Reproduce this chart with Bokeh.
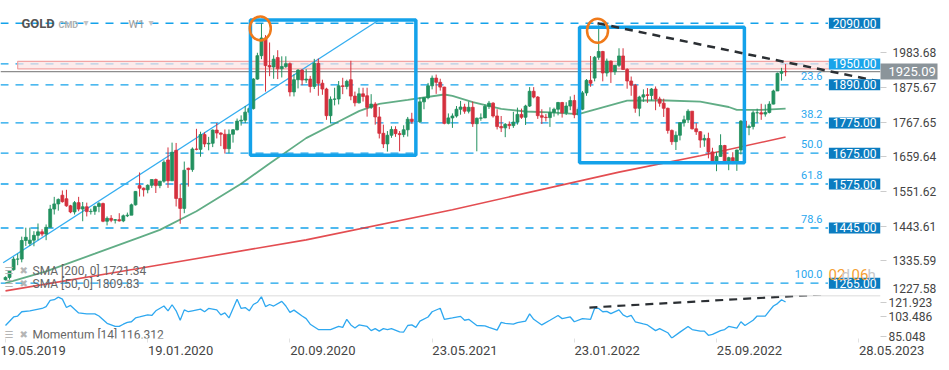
import pandas as pd
from bokeh.plotting import figure
from bokeh.layouts import column
from bokeh.models import Range1d, FixedTicker, Label, Span, ColumnDataSource, LinearAxis
from bokeh.embed import file_html
from bokeh.resources import INLINE

# ---------------- data (weekly GOLD candles, W1) ----------------
first_week = "2019-05-19"
opens = [1277, 1284, 1308, 1341, 1341, 1399, 1390, 1400, 1415, 1426, 1419, 1440, 1497, 1513, 1540, 1529, 1507, 1488, 1517, 1497,
         1504, 1489, 1490, 1505, 1514, 1459, 1468, 1462, 1464, 1460, 1476, 1478, 1510, 1570, 1562, 1557, 1571, 1589, 1570, 1584,
         1650, 1585, 1680, 1530, 1499, 1624, 1620, 1684, 1683, 1729, 1700, 1702, 1743, 1734, 1730, 1685, 1730, 1744, 1771, 1774,
         1799, 1810, 1902, 1975, 2030, 1944, 1940, 1969, 1934, 1941, 1950, 1862, 1900, 1930, 1899, 1902, 1879, 1951, 1889, 1871,
         1788, 1839, 1840, 1881, 1879, 1900, 1849, 1828, 1856, 1850, 1814, 1824, 1784, 1733, 1700, 1727, 1745, 1732, 1729, 1744,
         1777, 1770, 1769, 1831, 1844, 1881, 1905, 1892, 1877, 1764, 1781, 1787, 1808, 1815, 1802, 1814, 1763, 1780, 1781, 1817,
         1827, 1787, 1754, 1750, 1761, 1757, 1768, 1792, 1783, 1818, 1864, 1846, 1788, 1783, 1782, 1798, 1808, 1829, 1797, 1818,
         1835, 1791, 1808, 1859, 1898, 1905, 1970, 1988, 1921, 1958, 1925, 1945, 1974, 1932, 1896, 1883, 1811, 1846, 1853, 1851,
         1871, 1840, 1827, 1811, 1742, 1707, 1727, 1766, 1775, 1802, 1747, 1738, 1712, 1717, 1675, 1644, 1661, 1695, 1644, 1657,
         1645, 1681, 1771, 1751, 1754, 1797, 1797, 1793, 1798, 1824, 1865, 1920, 1926]
highs = [1287, 1306, 1348, 1358, 1411, 1439, 1439, 1428, 1452, 1434, 1449, 1510, 1535, 1530, 1555, 1557, 1510, 1522, 1535, 1519,
         1517, 1498, 1508, 1519, 1517, 1474, 1478, 1466, 1484, 1480, 1486, 1514, 1553, 1611, 1564, 1574, 1589, 1592, 1584, 1649,
         1689, 1704, 1703, 1575, 1645, 1626, 1689, 1747, 1738, 1736, 1722, 1745, 1765, 1736, 1745, 1745, 1746, 1779, 1789, 1818,
         1815, 1905, 1984, 2075, 2039, 2016, 1976, 1992, 1973, 1973, 1954, 1917, 1933, 1933, 1933, 1912, 1965, 1966, 1900, 1875,
         1848, 1875, 1896, 1906, 1900, 1959, 1863, 1875, 1875, 1875, 1855, 1830, 1815, 1760, 1740, 1755, 1755, 1740, 1758, 1784,
         1797, 1790, 1845, 1846, 1890, 1913, 1916, 1903, 1878, 1795, 1795, 1818, 1834, 1825, 1832, 1832, 1782, 1795, 1823, 1834,
         1830, 1808, 1787, 1765, 1770, 1800, 1813, 1810, 1822, 1877, 1877, 1849, 1808, 1793, 1814, 1813, 1831, 1831, 1830, 1848,
         1853, 1815, 1865, 1902, 1974, 1974, 2070, 1990, 1966, 1960, 1945, 1998, 1998, 1936, 1910, 1887, 1850, 1870, 1874, 1874,
         1879, 1847, 1841, 1813, 1745, 1739, 1767, 1788, 1808, 1802, 1765, 1740, 1729, 1735, 1688, 1675, 1730, 1697, 1660, 1674,
         1682, 1774, 1786, 1760, 1804, 1810, 1825, 1823, 1833, 1869, 1922, 1937, 1949]
lows = [1274, 1277, 1305, 1322, 1331, 1382, 1382, 1381, 1400, 1412, 1400, 1440, 1480, 1492, 1517, 1504, 1484, 1480, 1490, 1459,
        1474, 1480, 1479, 1487, 1456, 1446, 1456, 1452, 1458, 1456, 1472, 1478, 1508, 1536, 1536, 1546, 1563, 1547, 1562, 1579,
        1563, 1585, 1505, 1451, 1484, 1567, 1613, 1680, 1660, 1690, 1680, 1690, 1717, 1693, 1670, 1671, 1704, 1742, 1757, 1765,
        1791, 1807, 1900, 1964, 1863, 1911, 1903, 1902, 1907, 1937, 1848, 1848, 1873, 1883, 1890, 1860, 1871, 1850, 1853, 1775,
        1764, 1820, 1823, 1855, 1870, 1836, 1817, 1826, 1832, 1785, 1809, 1760, 1717, 1687, 1676, 1719, 1722, 1677, 1721, 1723,
        1763, 1756, 1765, 1808, 1839, 1870, 1856, 1866, 1761, 1761, 1750, 1782, 1791, 1794, 1795, 1753, 1677, 1772, 1781, 1809,
        1782, 1745, 1737, 1721, 1746, 1750, 1760, 1778, 1759, 1815, 1842, 1778, 1762, 1770, 1753, 1785, 1789, 1782, 1790, 1805,
        1780, 1788, 1805, 1850, 1878, 1895, 1962, 1895, 1910, 1890, 1915, 1940, 1931, 1872, 1850, 1797, 1786, 1831, 1828, 1835,
        1805, 1816, 1784, 1732, 1697, 1681, 1711, 1754, 1765, 1745, 1728, 1688, 1691, 1655, 1639, 1615, 1660, 1640, 1618, 1637,
        1616, 1667, 1747, 1727, 1745, 1767, 1775, 1785, 1795, 1823, 1867, 1897, 1911]
closes = [1284, 1305, 1341, 1341, 1399, 1409, 1400, 1415, 1426, 1419, 1440, 1497, 1513, 1527, 1520, 1507, 1488, 1517, 1497, 1504,
          1489, 1490, 1505, 1514, 1459, 1468, 1462, 1464, 1460, 1476, 1478, 1510, 1552, 1562, 1557, 1571, 1589, 1570, 1584, 1643,
          1585, 1674, 1530, 1499, 1618, 1620, 1684, 1683, 1729, 1700, 1702, 1743, 1734, 1730, 1685, 1730, 1744, 1771, 1774, 1799,
          1810, 1902, 1975, 2030, 1944, 1940, 1964, 1934, 1941, 1950, 1862, 1900, 1930, 1899, 1902, 1879, 1951, 1889, 1871, 1788,
          1839, 1840, 1881, 1879, 1895, 1849, 1828, 1856, 1848, 1814, 1824, 1784, 1733, 1700, 1727, 1745, 1732, 1729, 1744, 1777,
          1770, 1769, 1831, 1844, 1881, 1905, 1892, 1877, 1764, 1781, 1787, 1808, 1815, 1802, 1814, 1763, 1780, 1781, 1817, 1827,
          1787, 1754, 1750, 1761, 1757, 1768, 1792, 1783, 1818, 1864, 1846, 1788, 1783, 1782, 1798, 1808, 1829, 1797, 1818, 1835,
          1791, 1808, 1859, 1898, 1889, 1970, 1988, 1921, 1958, 1925, 1945, 1974, 1932, 1896, 1883, 1811, 1846, 1853, 1851, 1871,
          1840, 1827, 1811, 1742, 1707, 1727, 1766, 1775, 1802, 1747, 1738, 1712, 1717, 1675, 1644, 1661, 1695, 1644, 1657, 1645,
          1681, 1771, 1751, 1754, 1797, 1797, 1793, 1798, 1824, 1865, 1920, 1926, 1925.09]

sma50_weeks = [0, 10, 22, 33, 38, 47, 58, 65, 74, 82, 87, 92, 99, 108, 110, 115, 122, 128, 134, 141, 147, 153, 161, 171, 178, 180, 186, 192]
sma50_vals = [1266, 1303, 1358, 1409, 1432, 1490, 1576, 1639, 1718, 1770, 1802, 1825, 1837, 1854, 1850, 1830, 1809, 1801, 1798, 1793,
              1814, 1835, 1836, 1832, 1815, 1806, 1806, 1809.83]
sma200_weeks = [0, 32, 74, 110, 151, 171, 192]
sma200_vals = [1242, 1310, 1401, 1495, 1612, 1663, 1721.34]

mom_weeks = [0, 2, 3, 4, 6, 9, 10, 11, 12, 13, 14, 15, 16, 18, 20, 22, 23, 25, 27, 28, 29, 30, 31, 32, 33, 35, 36, 37, 39, 40,
             41, 42, 43, 44, 45, 46, 48, 49, 50, 52, 53, 54, 55, 57, 58, 59, 60, 61, 62, 63, 64, 65, 66, 68, 69, 70, 71, 73, 74, 75,
             77, 80, 82, 83, 84, 85, 86, 87, 89, 90, 91, 92, 93, 94, 95, 97, 98, 99, 100, 101, 102, 104, 105, 107, 108, 110, 112, 113,
             114, 116, 118, 119, 121, 122, 123, 125, 126, 128, 129, 130, 132, 134, 136, 137, 139, 140, 142, 144, 145, 146, 147, 148,
             149, 151, 152, 153, 154, 155, 157, 158, 160, 161, 163, 164, 166, 168, 169, 171, 172, 173, 174, 176, 177, 178, 180, 181,
             182, 184, 185, 187, 188, 189, 190, 191, 192]
mom_vals = [96.2, 103.5, 104.3, 108.0, 108.8, 110.8, 112.4, 117.7, 118.3, 120.5, 118.8, 111.6, 113.4, 107.0, 106.2, 106.2, 104.3,
            98.1, 95.4, 95.4, 97.3, 98.9, 99.4, 102.7, 103.5, 105.3, 104.8, 108.8, 112.9, 108.8, 114.0, 108.8, 100.7, 109.6, 108.0,
            108.8, 110.2, 108.0, 110.8, 109.6, 105.3, 107.0, 102.7, 118.8, 110.8, 111.6, 108.8, 114.2, 116.1, 120.9, 112.4, 114.2,
            112.9, 116.9, 112.9, 107.5, 109.4, 104.3, 102.1, 97.3, 92.7, 92.7, 95.4, 94.6, 101.5, 96.7, 94.0, 96.7, 95.4, 91.8, 93.5,
            91.4, 93.5, 92.7, 93.5, 90.8, 90.6, 96.2, 96.7, 94.6, 99.9, 103.5, 108.0, 111.0, 101.5, 102.7, 104.0, 100.7, 101.5, 96.2,
            95.9, 94.6, 92.2, 98.9, 98.1, 97.3, 98.6, 99.9, 106.2, 101.5, 96.7, 100.7, 104.8, 102.1, 103.5, 99.4, 102.1, 101.5, 111.0,
            110.8, 108.0, 108.3, 106.4, 109.6, 105.3, 103.5, 104.8, 99.4, 97.5, 96.7, 91.8, 93.5, 90.0, 85.4, 90.5, 95.4, 92.7, 91.4,
            91.4, 87.8, 88.6, 91.8, 92.7, 95.4, 94.0, 99.4, 96.2, 100.7, 104.3, 104.3, 108.8, 112.9, 115.0, 118.3, 116.312]

level_prices = [2076, 1949.4, 1884, 1765.5, 1671, 1575, 1438, 1266]
level_labels = ["2090.00", "1950.00", "1890.00", "1775.00", "1675.00", "1575.00", "1445.00", "1265.00"]
fib_labels = ["", "", "23.6", "38.2", "50.0", "61.8", "78.6", "100.0"]
last_price = 1925.09
zone_bottom, zone_top = 1934, 1957.5
zone_start, zone_end = "2019-06-09", "2023-04-09"
levels_end = "2023-04-05"

box_left = ["2020-07-14", "2022-02-01"]
box_right = ["2021-04-25", "2022-11-12"]
box_top = [2086, 2063.6]
box_bottom = [1664.8, 1641.4]
ell_dates = ["2020-07-31", "2022-03-04"]
ell_prices = [2060, 2053]

channel_dates = ["2019-05-15", "2021-02-19"]
channel_prices = [1329.4, 2084.5]
res_dates = ["2022-03-04", "2023-07-04"]
res_prices = [2076, 1894]
mom_trend_dates = ["2022-02-18", "2023-03-29"]
mom_trend_vals = [111.6, 122.9]

price_ticks = [1227.58, 1335.59, 1443.61, 1551.62, 1659.64, 1767.65, 1875.67, 1983.68]
mom_ticks = [85.048, 103.486, 121.923]
date_ticks = ["2019-05-19", "2020-01-19", "2020-09-20", "2021-05-23", "2022-01-23", "2022-09-25", "2023-05-28"]
date_labels = ["19.05.2019", "19.01.2020", "20.09.2020", "23.05.2021", "23.01.2022", "25.09.2022", "28.05.2023"]

# ---------------- build ----------------
FONT = "Roboto"
def D(lst):
    return [pd.Timestamp(s) for s in lst]
dates = pd.date_range(first_week, periods=len(closes), freq="7D")
x_start = pd.Timestamp("2019-05-10 09:36")
x_end = pd.Timestamp("2023-07-04 12:00")
W1, H1, H2 = 941, 295, 65
RB = 61
FRAME_W = W1 - RB
def sy1(yr):
    return H1 - yr

GREEN, RED = "#22915f", "#d4303d"
BLUE = "#14a2ea"
TAG = "#8b949a"

p1 = figure(width=W1, height=H1, x_axis_type="datetime", x_axis_location=None, y_axis_location="right",
            x_range=Range1d(x_start, x_end), y_range=Range1d(price_ticks[0], 2146.9),
            toolbar_location=None, output_backend="svg", min_border_left=0, min_border_right=RB,
            min_border_top=0, min_border_bottom=0, outline_line_color=None)
p1.grid.visible = False

# horizontal levels
lsrc = ColumnDataSource(dict(x0=[x_start] * len(level_prices), x1=[pd.Timestamp(levels_end)] * len(level_prices),
                             y=level_prices))
p1.segment(x0="x0", y0="y", x1="x1", y1="y", source=lsrc, line_color=BLUE, line_width=1.3, line_dash="8 7")
# zone
p1.quad(left=[pd.Timestamp(zone_start)], right=[pd.Timestamp(zone_end)], bottom=[zone_bottom], top=[zone_top],
        fill_color="#fbe2e2", fill_alpha=0.7, line_color="#f2a3a3", line_width=1.2)
# last price line
p1.segment(x0=[x_start], x1=[x_end], y0=[last_price], y1=[last_price], line_color="#8d8d8d", line_width=1.2)

# moving averages
p1.line(x=dates[sma200_weeks], y=sma200_vals, line_color="#e03a3e", line_width=1.6, line_alpha=0.9)
p1.line(x=dates[sma50_weeks], y=sma50_vals, line_color="#3a9868", line_width=1.8, line_alpha=0.8)
# channel line
p1.line(x=D(channel_dates), y=channel_prices, line_color="#35aef0", line_width=1.3)

# candles
up = [c >= o for o, c in zip(opens, closes)]
src = ColumnDataSource(dict(x=dates, o=opens, h=highs, l=lows, c=closes,
                            top=[max(o, c) for o, c in zip(opens, closes)],
                            bot=[min(o, c) for o, c in zip(opens, closes)],
                            col=[GREEN if u else RED for u in up]))
p1.segment(x0="x", x1="x", y0="l", y1="h", source=src, line_color="col", line_width=1)
p1.vbar(x="x", width=5 * 86400000, top="top", bottom="bot", source=src, fill_color="col", line_color="col", line_width=0.8)

# boxes
p1.quad(left=D(box_left), right=D(box_right), top=box_top, bottom=box_bottom,
        fill_color=None, line_color=BLUE, line_width=3.5)
# resistance trend line
p1.line(x=D(res_dates), y=res_prices, line_color="#2b2f33", line_width=2.5, line_dash="8 6")
# ellipses
p1.ellipse(x=D(ell_dates), y=ell_prices, width=21, height=24, width_units="screen", height_units="screen",
           fill_color=None, line_color="#f07a1a", line_width=2.5)

# ---- axes: an inner axis carries the last-price tag and the short tick marks,
#      the outer axis carries the price labels (pulled back next to the frame)
price_tick_pos = [1249] + price_ticks[1:]
tag_axis = LinearAxis(ticker=FixedTicker(ticks=[last_price], minor_ticks=price_tick_pos[1:]),
                      major_label_overrides={last_price: "1925.09"})
tag_axis.axis_line_color = None
tag_axis.major_tick_in = 0
tag_axis.major_tick_out = 57
tag_axis.major_tick_line_width = 16
tag_axis.major_tick_line_color = TAG
tag_axis.major_tick_line_cap = "butt"
tag_axis.minor_tick_in = 0
tag_axis.minor_tick_out = 6
tag_axis.minor_tick_line_color = "#cccccc"
tag_axis.major_label_standoff = -49
tag_axis.major_label_text_font = FONT
tag_axis.major_label_text_font_size = "13px"
tag_axis.major_label_text_color = "white"
p1.right = [tag_axis] + list(p1.right)

ax = p1.yaxis[1] if p1.yaxis[0] is tag_axis else p1.yaxis[0]
ax.ticker = FixedTicker(ticks=price_tick_pos)
ax.major_label_overrides = {1249: "1227.58"}
ax.axis_line_color = None
ax.major_tick_in = 0
ax.major_tick_out = 0
ax.major_tick_line_color = None
ax.minor_tick_line_color = None
ax.major_label_standoff = -46
ax.major_label_text_font = FONT
ax.major_label_text_font_size = "12px"
ax.major_label_text_color = "#444444"

# level boxes and fib labels
for i, (pr, lab) in enumerate(zip(level_prices, level_labels)):
    p1.add_layout(Label(x=FRAME_W, x_units="screen", y=pr, text=lab, text_align="right", text_baseline="middle",
                        text_color="white", text_font=FONT, text_font_size="12px",
                        background_fill_color="#19a4ea" if i == 1 else "#0b7cc0", padding=[4, 1]))
    if fib_labels[i]:
        p1.add_layout(Label(x=822, x_units="screen", y=pr, y_offset=9, text=fib_labels[i], text_align="right",
                            text_baseline="middle", text_color="#2aa7ee", text_font=FONT, text_font_size="11px"))

# countdown
for t, xr, col in [("02", 828, "#f5a033"), ("d", 841, "#c8c8c8"), ("06", 851, "#f5a033"), ("h", 867, "#c8c8c8")]:
    p1.add_layout(Label(x=xr, x_units="screen", y=sy1(274), y_units="screen", text=t, text_align="left",
                        text_baseline="middle", text_color=col, text_font=FONT, text_font_size="15px"))
# header
p1.add_layout(Label(x=21, x_units="screen", y=sy1(23), y_units="screen", text="GOLD", text_baseline="middle",
                    text_font=FONT, text_font_size="13px", text_font_style="bold", text_color="#555555"))
p1.add_layout(Label(x=58, x_units="screen", y=sy1(24), y_units="screen", text="CMD", text_baseline="middle",
                    text_font=FONT, text_font_size="9px", text_font_style="bold", text_color="#b0b0b0"))
p1.add_layout(Label(x=128, x_units="screen", y=sy1(23.5), y_units="screen", text="W1", text_baseline="middle",
                    text_font=FONT, text_font_size="11px", text_color="#9a9a9a"))
for xr in [83, 148]:
    p1.add_layout(Label(x=xr, x_units="screen", y=sy1(22), y_units="screen", text="▾", text_baseline="middle",
                        text_font="DejaVu Sans", text_font_size="10px", text_color="#c4c4c4"))
# legends
for yr, txt in [(270, "SMA [200, 0] 1721.34"), (283.3, "SMA [50, 0] 1809.83")]:
    p1.add_layout(Label(x=4, x_units="screen", y=sy1(yr), y_units="screen", text="☰", text_baseline="middle",
                        text_font="DejaVu Sans", text_font_size="10px", text_color="#b5b5b5"))
    p1.add_layout(Label(x=19, x_units="screen", y=sy1(yr), y_units="screen", text="✖", text_baseline="middle",
                        text_font="DejaVu Sans", text_font_size="10px", text_color="#b5b5b5"))
    p1.add_layout(Label(x=32, x_units="screen", y=sy1(yr), y_units="screen", text=txt, text_baseline="middle",
                        text_font=FONT, text_font_size="12px", text_color="#666666"))

# ---------------- momentum panel ----------------
p2 = figure(width=W1, height=H2, x_axis_type="datetime", y_axis_location="right",
            x_range=p1.x_range, y_range=Range1d(mom_ticks[0], mom_ticks[-1]),
            toolbar_location=None, output_backend="svg", min_border_left=0, min_border_right=RB,
            min_border_top=0, outline_line_color=None)
p2.grid.visible = False
p2.add_layout(Span(location=mom_ticks[-1], dimension="width", line_color="#d0d0d0", line_width=1.5))
p2.line(x=dates[mom_weeks], y=mom_vals, line_color="#2ea8f0", line_width=1.3)
p2.line(x=D(mom_trend_dates), y=mom_trend_vals, line_color="#2b2f33", line_width=2.2, line_dash="8 6")
p2.add_layout(Label(x=4, x_units="screen", y=88.1, text="☰", text_baseline="middle",
                    text_font="DejaVu Sans", text_font_size="10px", text_color="#b5b5b5"))
p2.add_layout(Label(x=19, x_units="screen", y=88.1, text="✖", text_baseline="middle",
                    text_font="DejaVu Sans", text_font_size="10px", text_color="#b5b5b5"))
p2.add_layout(Label(x=32, x_units="screen", y=88.1, text="Momentum [14] 116.312", text_baseline="middle",
                    text_font=FONT, text_font_size="12px", text_color="#666666"))

yt = [86.4, mom_ticks[1], 116.0]
p2.yaxis.ticker = FixedTicker(ticks=yt)
p2.yaxis.major_label_overrides = {86.4: "85.048", mom_ticks[1]: "103.486", 116.0: "121.923"}
ax2 = p2.yaxis[0]
ax2.axis_line_color = None
ax2.major_tick_in = 0
ax2.major_tick_out = 6
ax2.major_tick_line_color = "#cccccc"
ax2.minor_tick_line_color = None
ax2.major_label_standoff = 2
ax2.major_label_text_font = FONT
ax2.major_label_text_font_size = "12px"
ax2.major_label_text_color = "#444444"

# date ticks: labels start at the tick (padded on the left with figure spaces)
xt = [int(pd.Timestamp(d).value // 10**6) for d in date_ticks]
p2.xaxis.ticker = FixedTicker(ticks=xt)
p2.xaxis.major_label_overrides = {t: (lab if k == 0 else "\u2007" * 9 + lab)
                                  for k, (t, lab) in enumerate(zip(xt, date_labels))}
xa = p2.xaxis[0]
xa.axis_line_color = None
xa.major_tick_in = 0
xa.major_tick_out = 4
xa.major_tick_line_color = "#e2e2e2"
xa.minor_tick_line_color = None
xa.major_label_standoff = 0
xa.major_label_text_font = FONT
xa.major_label_text_font_size = "13px"
xa.major_label_text_color = "#444444"

layout = column(p1, p2, spacing=0)
open("out.html", "w").write(file_html(layout, INLINE))
